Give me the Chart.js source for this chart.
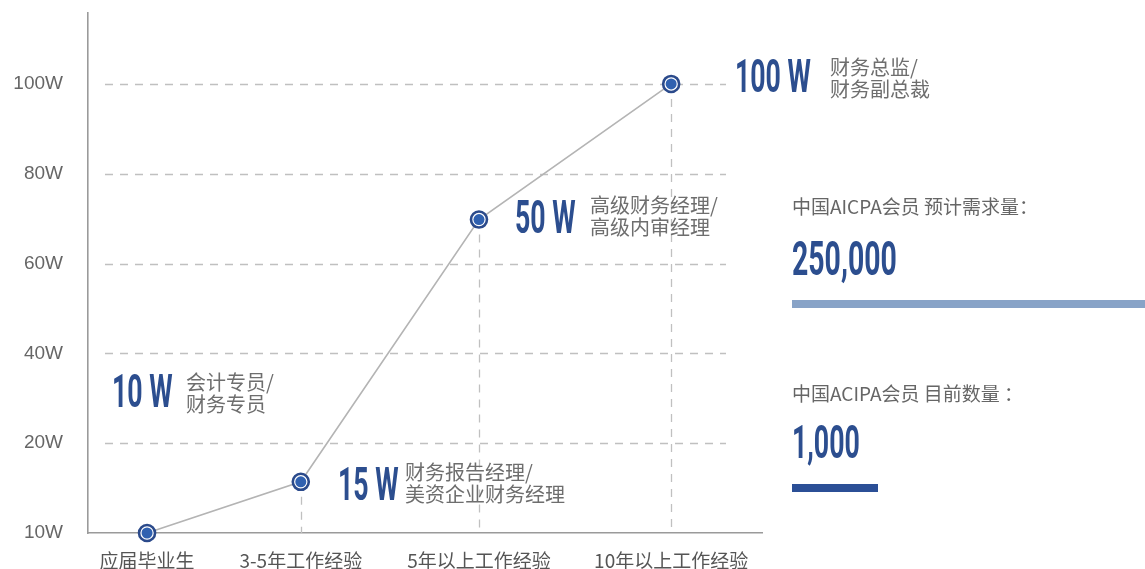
<!DOCTYPE html>
<html>
<head>
<meta charset="utf-8">
<script src="https://cdn.jsdelivr.net/npm/chart.js@4"></script>
<style>
html,body{margin:0;padding:0;background:#fff;}
#wrap{position:relative;width:1145px;height:569px;overflow:hidden;background:#fff;}
#c{position:absolute;left:0;top:0;}
.big{position:absolute;font-family:Roboto,"Liberation Sans",sans-serif;font-weight:700;color:#2c4e8f;transform-origin:0 0;white-space:nowrap;}
.sm{position:absolute;font-family:"Noto Sans CJK SC",sans-serif;color:#6e6e6e;font-size:20px;line-height:22px;white-space:nowrap;}
.lbl{position:absolute;font-family:"Noto Sans CJK SC",sans-serif;color:#666;font-size:19px;line-height:22px;white-space:nowrap;}
.bar{position:absolute;height:8px;}
</style>
</head>
<body>
<div id="wrap">
<canvas id="c" width="1145" height="569"></canvas>
</div>
<script>
// ---- data ----
const categories = ['应届毕业生', '3-5年工作经验', '5年以上工作经验', '10年以上工作经验'];
const categoryPos = [0, 0.88, 1.9, 3];          // position of each category along the x axis
const yTickLabels = ['10W', '20W', '40W', '60W', '80W', '100W'];
const yTickPos = [0, 1, 2, 3, 4, 5];
const salaryPos = [0, 0.57, 3.49, 5];           // plotted height on the tick scale
const salaryLabels = ['10 W', '15 W', '50 W', '100 W'];
const roleLines = [
  ['会计专员/', '财务专员'],
  ['财务报告经理/', '美资企业财务经理'],
  ['高级财务经理/', '高级内审经理'],
  ['财务总监/', '财务副总裁']
];
const statLabels = ['中国AICPA会员 预计需求量：', '中国ACIPA会员 目前数量 ：'];
const statValues = ['250,000', '1,000'];

// ---- layout / style (pixels) ----
const annoLayout = [
  {x: 112, base: 407, sx: 186, b1: 391},
  {x: 338, base: 500, sx: 405, b1: 481},
  {x: 515, base: 233, sx: 590, b1: 214},
  {x: 735, base: 92,  sx: 830, b1: 76}
];
const statLayout = [
  {x: 792, lblBase: 214, valBase: 275, valSize: 49, bar: {y: 300, w: 353, color: '#88a3c7'}},
  {x: 792, lblBase: 401, valBase: 458, valSize: 46, bar: {y: 484, w: 86, color: '#2b4f96'}}
];
const BIG_SIZE = 46, SCALE_X = 0.58;

const wrap = document.getElementById('wrap');
function addDiv(cls, html, left, top, extra) {
  const d = document.createElement('div');
  d.className = cls;
  d.innerHTML = html;
  d.style.left = left + 'px';
  d.style.top = top + 'px';
  if (extra) Object.assign(d.style, extra);
  wrap.appendChild(d);
  return d;
}
annoLayout.forEach((p, i) => {
  addDiv('big', salaryLabels[i], p.x, p.base - 0.8418 * BIG_SIZE,
    {fontSize: BIG_SIZE + 'px', lineHeight: BIG_SIZE + 'px', transform: 'scaleX(' + SCALE_X + ')'});
  addDiv('sm', roleLines[i].join('<br>'), p.sx, p.b1 - 19.7);
});
statLayout.forEach((p, i) => {
  addDiv('lbl', statLabels[i], p.x, p.lblBase - 19.3);
  addDiv('big', statValues[i], p.x, p.valBase - 0.8418 * p.valSize,
    {fontSize: p.valSize + 'px', lineHeight: p.valSize + 'px', transform: 'scaleX(' + SCALE_X + ')'});
  addDiv('bar', '', p.x, p.bar.y, {width: p.bar.w + 'px', background: p.bar.color});
});

const guides = {
  id: 'guides',
  beforeDatasetsDraw(chart) {
    const {ctx, chartArea: a, scales: {y}} = chart;
    ctx.save();
    ctx.strokeStyle = '#c0c0c0';
    ctx.lineWidth = 1.3;
    ctx.setLineDash([8, 7]);
    yTickPos.forEach(v => {
      if (v === 0) return;
      const py = Math.round(y.getPixelForValue(v)) + 0.5;
      ctx.beginPath(); ctx.moveTo(a.left + 17, py); ctx.lineTo(a.right - 36, py); ctx.stroke();
    });
    const meta = chart.getDatasetMeta(0);
    meta.data.forEach((pt, i) => {
      if (salaryPos[i] <= 0) return;
      const px = Math.round(pt.x) + 0.5;
      ctx.beginPath(); ctx.moveTo(px, pt.y); ctx.lineTo(px, a.bottom); ctx.stroke();
    });
    ctx.restore();
  }
};

const pts = categoryPos.map((x, i) => ({x: x, y: salaryPos[i]}));

new Chart(document.getElementById('c'), {
  type: 'line',
  data: {
    datasets: [
      {data: pts, borderColor: '#b4b4b4', borderWidth: 1.6, tension: 0, clip: false,
       pointRadius: 8, pointBackgroundColor: '#fff', pointBorderColor: '#2b4a8b', pointBorderWidth: 2.6, order: 2},
      {data: pts, showLine: false, clip: false,
       pointRadius: 5.5, pointBackgroundColor: '#3061b0', pointBorderWidth: 0, order: 1}
    ]
  },
  options: {
    responsive: false,
    animation: false,
    events: [],
    layout: {padding: {top: 13, right: 383, left: 0, bottom: 0}},
    plugins: {legend: {display: false}, tooltip: {enabled: false}},
    scales: {
      x: {
        type: 'linear', min: -0.338, max: 3.52,
        grid: {display: false},
        border: {display: true, color: '#9a9a9a', width: 1.6},
        ticks: {autoSkip: false, maxRotation: 0, padding: 8, color: '#555',
                font: {family: '"Noto Sans CJK SC"', size: 19},
                callback: (v, i) => categories[i]},
        afterBuildTicks: s => { s.ticks = categoryPos.map(v => ({value: v})); },
        afterFit: s => { s.height = 36; s.paddingLeft = 0; s.paddingRight = 0; }
      },
      y: {
        type: 'linear', min: 0, max: 5.79,
        grid: {display: false},
        border: {display: true, color: '#9a9a9a', width: 1.6},
        ticks: {padding: 17, color: '#666', font: {family: '"Liberation Sans"', size: 19},
                callback: (v, i) => yTickLabels[i]},
        afterBuildTicks: s => { s.ticks = yTickPos.map(v => ({value: v})); },
        afterFit: s => { s.width = 88; s.paddingTop = 0; s.paddingBottom = 0; }
      }
    }
  },
  plugins: [guides]
});
</script>
</body>
</html>
